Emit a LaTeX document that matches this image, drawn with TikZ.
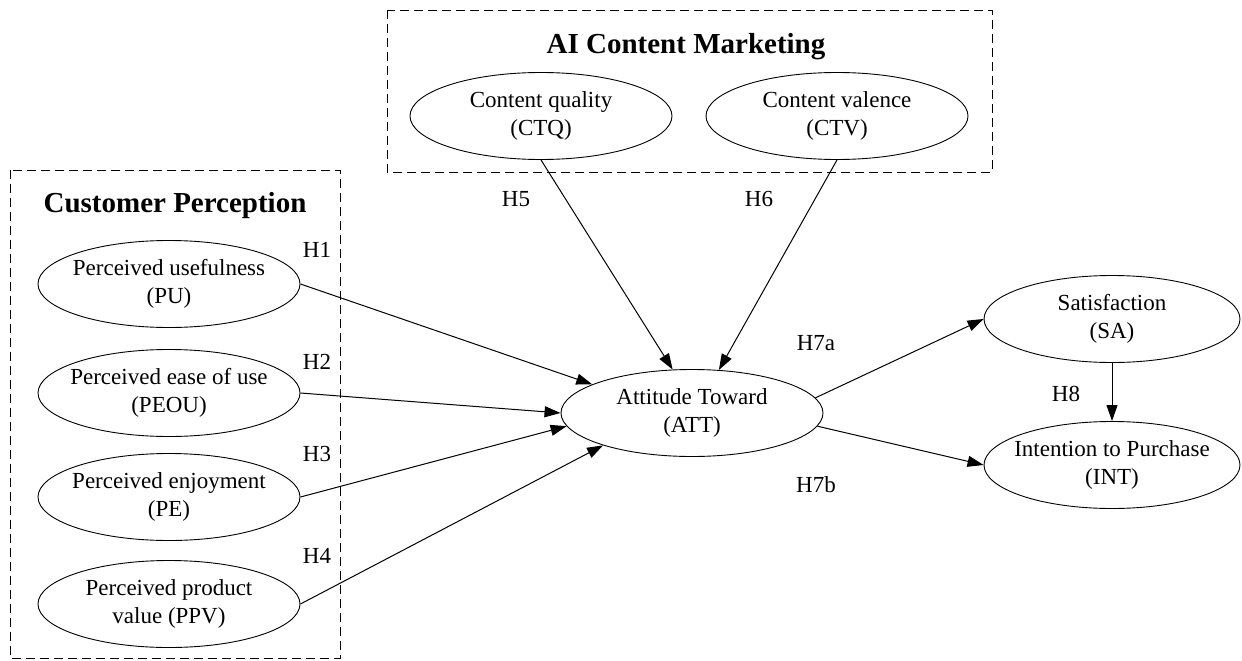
\documentclass[tikz,border=0pt]{standalone}
\usepackage{fontspec}
\setmainfont{Liberation Serif}
\usetikzlibrary{shapes.geometric,arrows.meta}
\begin{document}
\begin{tikzpicture}[x=1pt,y=-1pt,
  ell/.style={draw, ellipse, line width=0.9pt, minimum width=262pt, minimum height=87pt,
    inner xsep=-10pt, inner ysep=0pt, align=center, font=\fontsize{23}{28}\selectfont},
  hlab/.style={font=\fontsize{23}{28}\selectfont, inner sep=0pt},
  ttl/.style={font=\fontsize{29}{34}\selectfont\bfseries, inner sep=0pt, anchor=base},
  cluster/.style={draw, line width=0.9pt, dash pattern=on 9pt off 5pt},
  arr/.style={-{Triangle[length=16pt,width=11pt]}, line width=1pt}]
\useasboundingbox (0,0) rectangle (1242,661);
% clusters
\draw[cluster] (10,170) rectangle (340,658);
\draw[cluster] (387,10) rectangle (992,172);
\node[ttl] (tcp) at (175,212) {Customer Perception};
\node[ttl] (tai) at (686,53) {AI Content Marketing};
% nodes
\node[ell] (PU) at (169,284) {Perceived usefulness\\(PU)};
\node[ell] (PEOU) at (169,393) {Perceived ease of use\\(PEOU)};
\node[ell] (PE) at (169,497) {Perceived enjoyment\\(PE)};
\node[ell] (PPV) at (169,604) {Perceived product\\value (PPV)};
\node[ell] (CTQ) at (541,116) {Content quality\\(CTQ)};
\node[ell] (CTV) at (837,116) {Content valence\\(CTV)};
\node[ell] (ATT) at (692,413) {Attitude Toward\\(ATT)};
\node[ell, minimum width=256pt] (SA) at (1112,319) {Satisfaction\\(SA)};
\node[ell, minimum width=256pt] (INT) at (1112,465) {Intention to Purchase\\(INT)};
% labels
\node[hlab] (h1) at (317,250) {H1};
\node[hlab] (h2) at (317,362) {H2};
\node[hlab] (h3) at (317,454) {H3};
\node[hlab] (h4) at (317,556) {H4};
\node[hlab] (h5) at (516,199) {H5};
\node[hlab] (h6) at (759,199) {H6};
\node[hlab] (h7a) at (816,343) {H7a};
\node[hlab] (h7b) at (816,485) {H7b};
\node[hlab] (h8) at (1066,394) {H8};
% edges
\draw[arr] (PU.east) -- (ATT.164);
\draw[arr] (PEOU.east) -- (ATT.180);
\draw[arr] (PE.east) -- (ATT.186);
\draw[arr] (PPV.east) -- (ATT.200);
\draw[arr] (CTQ.south) -- (ATT.114);
\draw[arr] (CTV.south) -- (ATT.58);
\draw[arr] (ATT.7) -- (SA.west);
\draw[arr] (ATT.-6) -- (INT.west);
\draw[arr] (SA.south) -- (INT.north);
\end{tikzpicture}
\end{document}
